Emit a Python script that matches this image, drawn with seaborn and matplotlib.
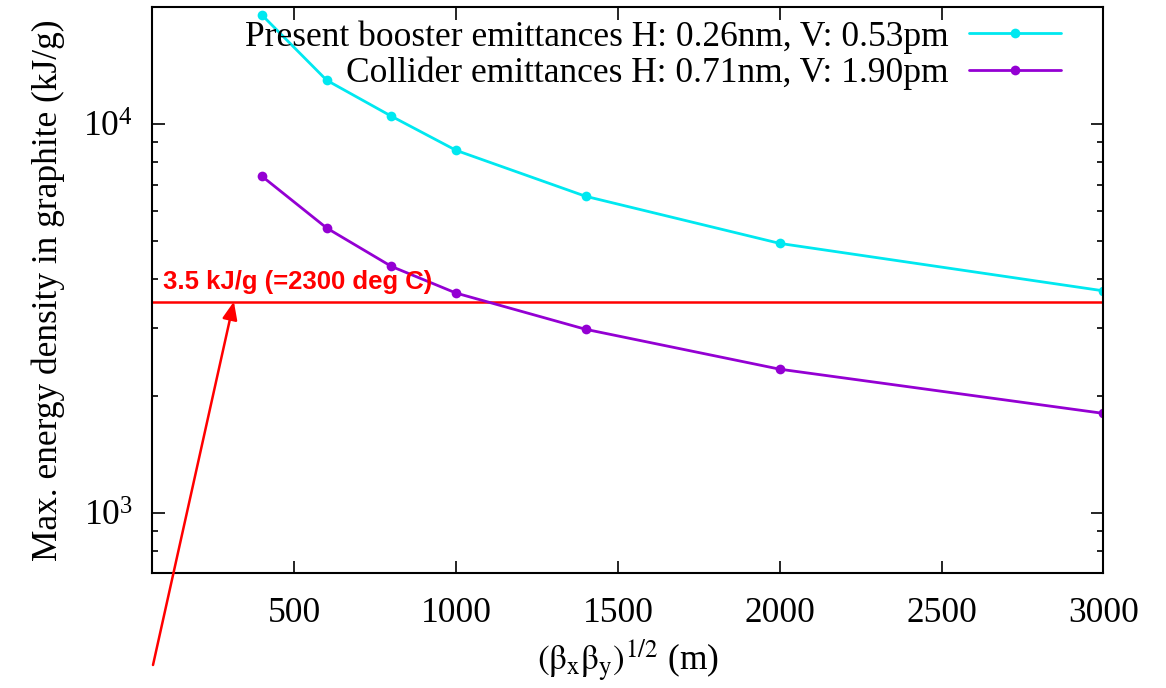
import numpy as np
import pandas as pd
import matplotlib
matplotlib.use("Agg")
import matplotlib.pyplot as plt
import matplotlib.ticker as mticker
import seaborn as sns

# ---- data ----
beta = [400, 600, 800, 1000, 1400, 2000, 3000]
booster = [19100, 12980, 10490, 8570, 6530, 4940, 3730]
collider = [7350, 5410, 4310, 3680, 2970, 2345, 1805]
series_names = ["Present booster emittances H: 0.26nm, V: 0.53pm",
                "Collider emittances H: 0.71nm, V: 1.90pm"]
limit_value = 3500
limit_label = "3.5 kJ/g (=2300 deg C)"
x_ticks = [500, 1000, 1500, 2000, 2500, 3000]

df = pd.DataFrame({
    "beta": beta * 2,
    "edep": booster + collider,
    "series": [series_names[0]] * len(beta) + [series_names[1]] * len(beta),
})

sns.set_theme(style="ticks")
plt.rcParams["font.family"] = ["Liberation Serif", "DejaVu Serif"]
plt.rcParams["mathtext.fontset"] = "stix"
plt.rcParams["text.color"] = "black"
plt.rcParams["axes.labelcolor"] = "black"

FS = 25.5
fig = plt.figure(figsize=(11.66, 6.88), dpi=100)
ax = fig.add_axes([152 / 1166, 1 - 573.3 / 688, (1103.3 - 152) / 1166, (573.3 - 7.3) / 688])

palette = {series_names[0]: "#00e8f0", series_names[1]: "#9400d3"}
sns.lineplot(data=df, x="beta", y="edep", hue="series", palette=palette,
             marker="o", markersize=7, markeredgewidth=0, linewidth=2.0,
             ax=ax, legend=False)

ax.axhline(limit_value, color="#ff0000", linewidth=1.8, zorder=1)
ax.text(11 / 951, limit_value * 1.045, limit_label, color="#ff0000",
        fontsize=18.5, fontweight="bold", family=["Liberation Sans", "DejaVu Sans"],
        transform=ax.get_yaxis_transform(), va="bottom", ha="left")

ax.set_yscale("log")
ax.set_xlim(60, 3000)
ax.set_ylim(700, 20000)

ax.set_xticks(x_ticks)
ax.xaxis.set_major_formatter(mticker.FuncFormatter(lambda v, p: f"{int(v)}"))
ax.yaxis.set_minor_formatter(mticker.NullFormatter())
ax.tick_params(which="both", top=True, right=True, direction="in", width=1.2,
               labelsize=FS, colors="black")
ax.tick_params(which="major", length=9)
ax.tick_params(which="minor", length=4.5)
ax.tick_params(axis="x", which="major", pad=17)
ax.tick_params(axis="y", which="major", pad=14)
for s in ax.spines.values():
    s.set_linewidth(1.5)
    s.set_color("black")

ax.set_xlabel(r"$(\mathrm{β_x β_y})^{1/2}$ (m)", fontsize=FS, labelpad=6)
ax.set_ylabel("Max. energy density in graphite (kJ/g)", fontsize=FS, labelpad=13)

# legend: text on the left, handle on the right
handles = [plt.Line2D([], [], color=palette[n], marker="o", markersize=7,
                      markeredgewidth=0, linewidth=2.0) for n in series_names]
leg = ax.legend(handles, series_names, loc="upper right", frameon=False,
                markerfirst=False, fontsize=FS, handlelength=2.6,
                borderaxespad=0.0, labelspacing=0.08, handletextpad=0.56,
                bbox_to_anchor=(0.970, 1.002))
for t in leg.get_texts():
    t.set_ha("right")

# arrow pointing to the limit line
ax.annotate("", xy=(313, limit_value), xycoords="data",
            xytext=(153, 688 - 665), textcoords="figure pixels",
            arrowprops=dict(arrowstyle="-|>,head_length=0.6,head_width=0.25",
                            color="#ff0000", lw=1.8,
                            mutation_scale=18, shrinkA=0, shrinkB=0),
            annotation_clip=False)

fig.savefig("out.png", dpi=100)
